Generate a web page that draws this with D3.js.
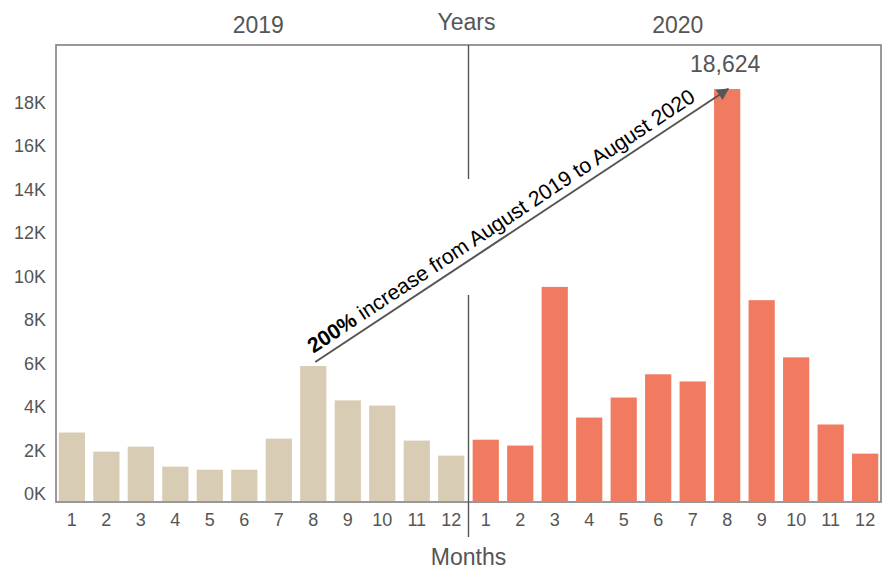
<!DOCTYPE html>
<html>
<head>
<meta charset="utf-8">
<script src="https://cdn.jsdelivr.net/npm/d3@7"></script>
<style>
  body { margin: 0; background: #fff; }
  text { font-family: Arial, "Liberation Sans", sans-serif; }
</style>
</head>
<body>
<div id="chart"></div>
<script>
//Datos
const YEARS = ['2019', '2020'];
const MONTHS = ['1','2','3','4','5','6','7','8','9','10','11','12'];
const VALUES_2019 = [2820, 1940, 2170, 1250, 1110, 1110, 2540, 5880, 4300, 4060, 2450, 1760];
const VALUES_2020 = [2490, 2220, 9520, 3510, 4430, 5500, 5170, 18624, 8910, 6280, 3190, 1850];
const Y_TICKS = [0, 2000, 4000, 6000, 8000, 10000, 12000, 14000, 16000, 18000];

//Colores
const COLOR_2019 = '#D9CCB5',
COLOR_2020 = '#F17B60',
COLOR_TEXT = '#555555',
COLOR_FRAME = '#808080';

let data = [];
YEARS.forEach(function(yr, i) {
    let vals = i == 0 ? VALUES_2019 : VALUES_2020;
    MONTHS.forEach(function(m, j) {
        data.push({ key: yr + '-' + m, year: yr, month: m, value: vals[j] });
    });
});

let W = 892, H = 569;
let margin = {top: 45, right: 11, bottom: 68, left: 56},
    width = W - margin.left - margin.right,
    height = H - margin.top - margin.bottom;

let svg = d3.select('#chart')
    .append('svg')
        .attr('width', W)
        .attr('height', H);

let g = svg.append('g')
    .attr('transform', 'translate(' + margin.left + ',' + margin.top + ')');

let x = d3.scaleBand()
    .domain(data.map(function(d) { return d.key; }))
    .range([0, width])
    .paddingInner(0.24)
    .paddingOuter(0.08);

//El dominio baja un poco de 0 para que las barras arranquen bajo la etiqueta 0K
let y = d3.scaleLinear()
    .domain([-330, 20650])
    .range([height, 0]);

//Barras
g.append('g')
    .selectAll('rect')
    .data(data)
    .enter()
    .append('rect')
    .attr('fill', function(d) { return d.year == '2019' ? COLOR_2019 : COLOR_2020; })
    .attr('x', function(d) { return x(d.key); })
    .attr('y', function(d) { return y(d.value); })
    .attr('width', x.bandwidth())
    .attr('height', function(d) { return y(y.domain()[0]) - y(d.value); });

//Eje Y
let yAxis = g.append('g')
    .call(d3.axisLeft(y).tickValues(Y_TICKS).tickSize(0).tickPadding(10)
        .tickFormat(function(d) { return (d / 1000) + 'K'; }));
yAxis.select('.domain').remove();
yAxis.selectAll('text')
    .attr('fill', COLOR_TEXT)
    .style('font-size', '18px');

//Eje X
let xAxis = g.append('g')
    .attr('transform', 'translate(0,' + height + ')')
    .call(d3.axisBottom(x).tickSize(0).tickPadding(12)
        .tickFormat(function(d) { return d.split('-')[1]; }));
xAxis.select('.domain').remove();
xAxis.selectAll('text')
    .attr('fill', COLOR_TEXT)
    .style('font-size', '18px');

//Marco
g.append('rect')
    .attr('x', 0)
    .attr('y', 0)
    .attr('width', width)
    .attr('height', height + 1)
    .attr('fill', 'none')
    .attr('stroke', COLOR_FRAME)
    .attr('stroke-width', 1.6);

//Separador entre años (cortado donde pasa la anotación)
let xDiv = (x('2019-12') + x.bandwidth() + x('2020-1')) / 2;
[[0, 134], [250, height + 36]].forEach(function(seg) {
    g.append('line')
        .attr('x1', xDiv).attr('x2', xDiv)
        .attr('y1', seg[0]).attr('y2', seg[1])
        .attr('stroke', COLOR_TEXT)
        .attr('stroke-width', 1.4);
});

//Títulos
let xLeftCenter = xDiv / 2,
    xRightCenter = (xDiv + width) / 2;

g.append('text')
    .attr('x', xLeftCenter - 4).attr('y', -12)
    .attr('text-anchor', 'middle')
    .attr('fill', COLOR_TEXT)
    .style('font-size', '23px')
    .text(YEARS[0]);

g.append('text')
    .attr('x', xRightCenter + 3).attr('y', -12)
    .attr('text-anchor', 'middle')
    .attr('fill', COLOR_TEXT)
    .style('font-size', '23px')
    .text(YEARS[1]);

g.append('text')
    .attr('x', xDiv - 2).attr('y', -15)
    .attr('text-anchor', 'middle')
    .attr('fill', COLOR_TEXT)
    .style('font-size', '23px')
    .text('Years');

g.append('text')
    .attr('x', xDiv).attr('y', height + 64)
    .attr('text-anchor', 'middle')
    .attr('fill', COLOR_TEXT)
    .style('font-size', '23px')
    .text('Months');

//Etiqueta del máximo
let maxD = data.find(function(d) { return d.key == '2020-8'; });
let minD = data.find(function(d) { return d.key == '2019-8'; });

g.append('text')
    .attr('x', x(maxD.key) + x.bandwidth() / 2 - 2)
    .attr('y', y(maxD.value) - 17)
    .attr('text-anchor', 'middle')
    .attr('fill', COLOR_TEXT)
    .style('font-size', '23px')
    .text(d3.format(',')(maxD.value));

//Flecha de anotación
svg.append('defs')
    .append('marker')
        .attr('id', 'arrow')
        .attr('viewBox', '0 0 10 10')
        .attr('refX', 9)
        .attr('refY', 5)
        .attr('markerWidth', 6)
        .attr('markerHeight', 6)
        .attr('markerUnits', 'strokeWidth')
        .attr('orient', 'auto')
    .append('path')
        .attr('d', 'M0,0 L10,5 L0,10 Z')
        .attr('fill', COLOR_TEXT);

let ax1 = x(minD.key) + x.bandwidth() / 2 + 2,
    ay1 = y(minD.value) - 4,
    ax2 = x(maxD.key) + x.bandwidth() / 2 + 1,
    ay2 = y(maxD.value);

g.append('line')
    .attr('x1', ax1).attr('y1', ay1)
    .attr('x2', ax2).attr('y2', ay2)
    .attr('stroke', COLOR_TEXT)
    .attr('stroke-width', 2)
    .attr('marker-end', 'url(#arrow)');

let angle = Math.atan2(ay2 - ay1, ax2 - ax1) * 180 / Math.PI;

let note = g.append('text')
    .attr('transform', 'translate(' + ax1 + ',' + ay1 + ') rotate(' + angle + ')')
    .attr('x', 3)
    .attr('y', -8)
    .attr('fill', '#000')
    .style('font-size', '21.2px');

note.append('tspan')
    .style('font-weight', 'bold')
    .text('200%');
note.append('tspan')
    .text(' increase from August 2019 to August 2020');
</script>
</body>
</html>
